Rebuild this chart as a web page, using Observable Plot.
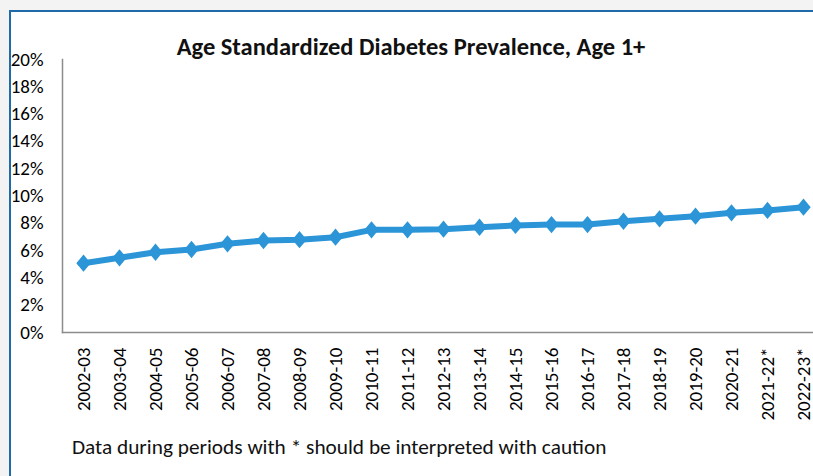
<!DOCTYPE html>
<html>
<head>
<meta charset="utf-8">
<script src="https://cdn.jsdelivr.net/npm/d3@7"></script>
<script src="https://cdn.jsdelivr.net/npm/@observablehq/plot@0.6"></script>
<style>
  html, body { margin: 0; padding: 0; width: 813px; height: 476px; overflow: hidden; background: #f3f3f3; }
  #panel { position: absolute; left: 9px; top: 10px; width: 840px; height: 500px; background: #ffffff;
           border-left: 2px solid #1f6aa8; border-top: 2px solid #1f6aa8; box-sizing: border-box; }
  #title { position: absolute; left: 0; top: 33px; width: 822px; text-align: center; line-height: 28px;
           font-family: Carlito, Lato, sans-serif; font-weight: 700; font-size: 24.5px; color: #111; white-space: nowrap; }
  #chart { position: absolute; left: 0; top: 0; width: 830px; }
  #chart svg { max-width: none !important; }
  #note { position: absolute; left: 72px; top: 435px; line-height: 25px; font-family: Carlito, Lato, sans-serif; font-size: 21.3px; color: #111; white-space: nowrap; }
</style>
</head>
<body>
<div id="panel"></div>
<div id="title">Age Standardized Diabetes Prevalence, Age 1+</div>
<div id="chart"></div>
<div id="note">Data during periods with * should be interpreted with caution</div>
<script>
const periods = ["2002-03","2003-04","2004-05","2005-06","2006-07","2007-08","2008-09","2009-10","2010-11","2011-12","2012-13","2013-14","2014-15","2015-16","2016-17","2017-18","2018-19","2019-20","2020-21","2021-22*","2022-23*"];
const prevalence = [0.0508,0.0547,0.0588,0.0608,0.0650,0.0674,0.0680,0.0698,0.0752,0.0752,0.0757,0.0771,0.0784,0.0791,0.0791,0.0815,0.0833,0.0852,0.0877,0.0894,0.0918];
const yTicks = [0,0.02,0.04,0.06,0.08,0.10,0.12,0.14,0.16,0.18,0.20];

const data = periods.map((p, i) => ({period: p, value: prevalence[i]}));

const diamond = {
  draw(context, size) {
    const r = Math.sqrt(size / Math.PI);
    const hw = r, hh = r * 1.2;
    context.moveTo(0, -hh);
    context.lineTo(hw, 0);
    context.lineTo(0, hh);
    context.lineTo(-hw, 0);
    context.closePath();
  }
};

const color = "#2b95d8";

const chart = Plot.plot({
  width: 830,
  height: 440,
  marginLeft: 62,
  marginRight: 6,
  marginTop: 59,
  marginBottom: 108,
  style: {fontFamily: "Carlito, Lato, sans-serif", fontSize: "19px", color: "#000", background: "transparent", overflow: "visible", maxWidth: "none"},
  x: {type: "point", domain: periods, padding: 0.5, label: null},
  y: {domain: [0, 0.2], label: null},
  marks: [
    Plot.frame({anchor: "left", stroke: "#8c8c8c", strokeWidth: 1.5}),
    Plot.frame({anchor: "bottom", stroke: "#8c8c8c", strokeWidth: 1.5}),
    Plot.axisY({ticks: yTicks, tickFormat: d3.format(".0%"), tickSize: 0, tickPadding: 19, label: null}),
    Plot.axisX({tickRotate: -90, tickSize: 0, tickPadding: 15, label: null}),
    Plot.line(data, {x: "period", y: "value", stroke: color, strokeWidth: 6}),
    Plot.dot(data, {x: "period", y: "value", symbol: diamond, r: 7.2, fill: color, stroke: "none"})
  ]
});
document.getElementById("chart").appendChild(chart);
</script>
</body>
</html>
